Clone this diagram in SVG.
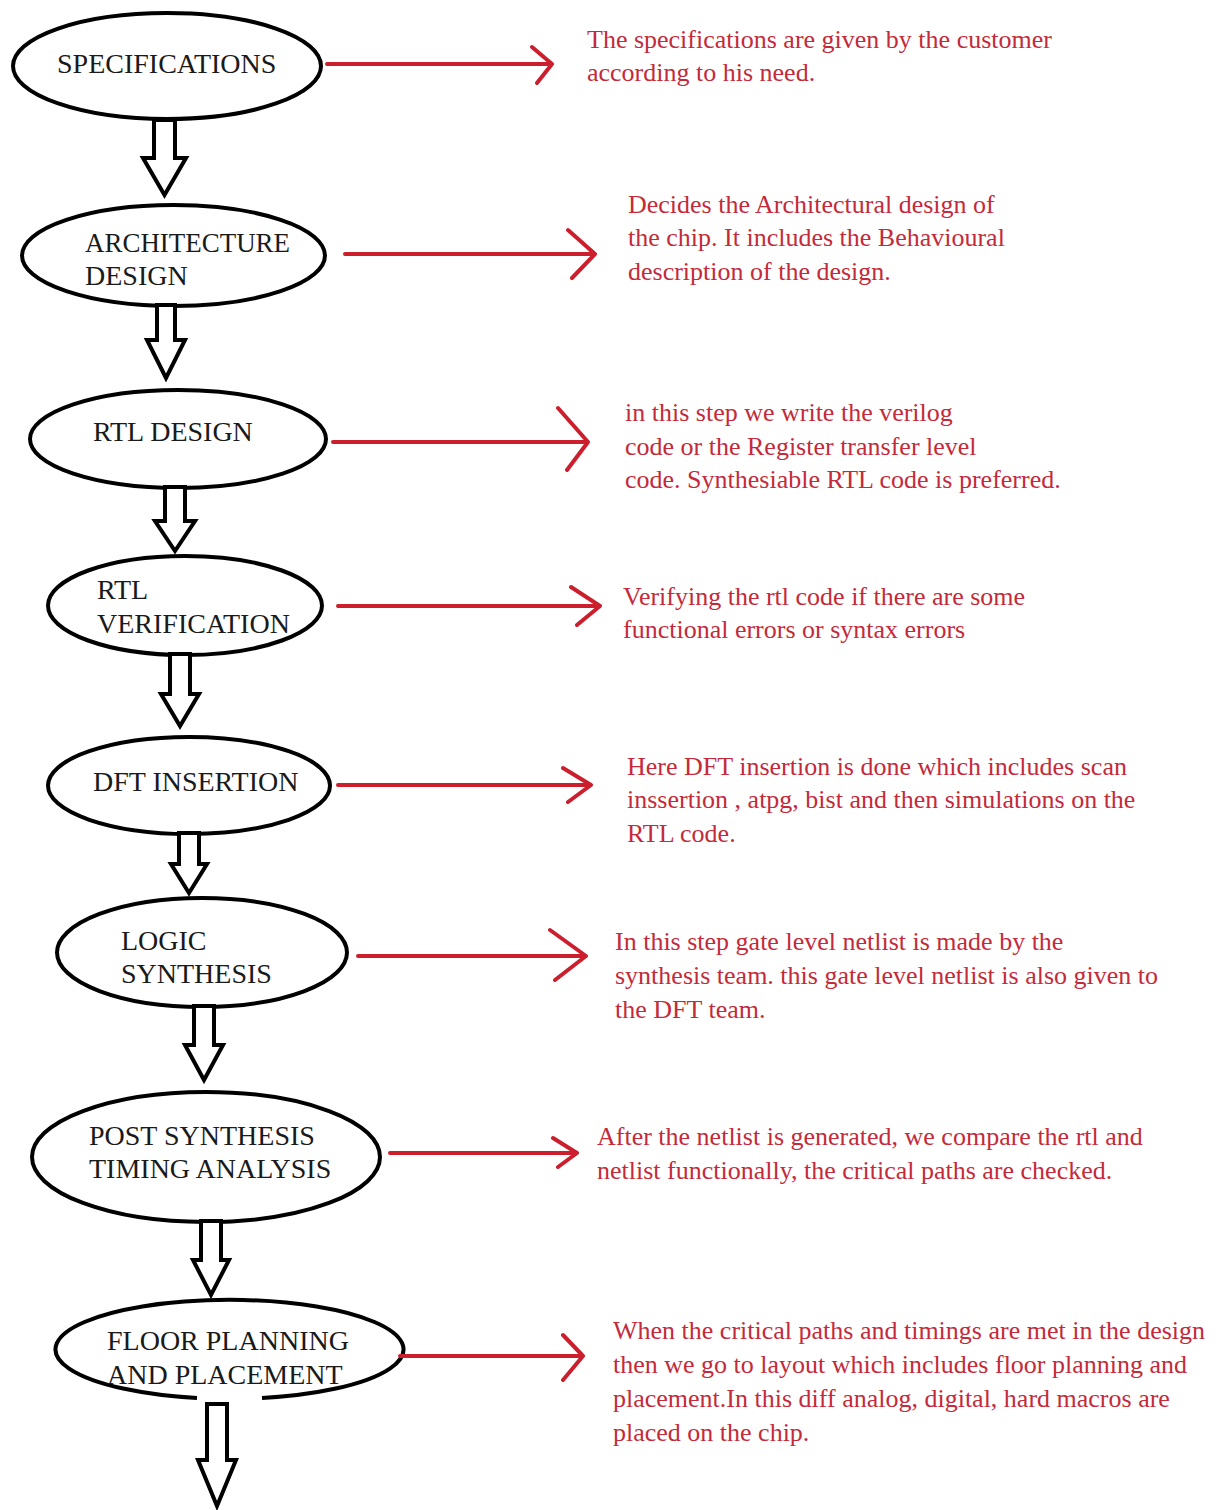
<svg xmlns="http://www.w3.org/2000/svg" width="1225" height="1510" viewBox="0 0 1225 1510">
<style>
.node{fill:#fff;stroke:#000;stroke-width:4}
.lbl{font-family:"Liberation Serif","Times New Roman",serif;font-size:28px;fill:#1a1a1a}
.desc{font-family:"Liberation Serif","Times New Roman",serif;font-size:26px;fill:#c42a3a}
.flow{fill:#fff;stroke:#000;stroke-width:4;stroke-linejoin:miter}
.red{fill:none;stroke:#cc1f2d;stroke-width:4;stroke-linecap:round;stroke-linejoin:round}
</style>
<rect width="1225" height="1510" fill="#fff"/>

<g id="n1">
<ellipse class="node" cx="167" cy="66" rx="154" ry="53"/>
<text class="lbl" x="57" y="73">SPECIFICATIONS</text>
</g>
<g id="n2">
<ellipse class="node" cx="173.5" cy="255.5" rx="151.5" ry="50.5"/>
<text class="lbl" x="85" y="252" textLength="205" lengthAdjust="spacingAndGlyphs">ARCHITECTURE</text>
<text class="lbl" x="85" y="285">DESIGN</text>
</g>
<g id="n3">
<ellipse class="node" cx="178" cy="439" rx="148" ry="49"/>
<text class="lbl" x="93" y="441">RTL DESIGN</text>
</g>
<g id="n4">
<ellipse class="node" cx="185" cy="605.5" rx="137" ry="49.5"/>
<text class="lbl" x="97" y="599">RTL</text>
<text class="lbl" x="97" y="633">VERIFICATION</text>
</g>
<g id="n5">
<ellipse class="node" cx="189" cy="785.5" rx="141" ry="48.5"/>
<text class="lbl" x="93" y="791">DFT INSERTION</text>
</g>
<g id="n6">
<ellipse class="node" cx="202" cy="952.5" rx="145" ry="54.5"/>
<text class="lbl" x="121" y="950">LOGIC</text>
<text class="lbl" x="121" y="983">SYNTHESIS</text>
</g>
<g id="n7">
<ellipse class="node" cx="206" cy="1157" rx="174" ry="65"/>
<text class="lbl" x="89" y="1145">POST SYNTHESIS</text>
<text class="lbl" x="89" y="1178">TIMING ANALYSIS</text>
</g>
<g id="n8">
<path class="node" d="M 262 1398 A 174 49.5 0 1 0 197 1398"/>
<text class="lbl" x="107" y="1350">FLOOR PLANNING</text>
<text class="lbl" x="107" y="1384">AND PLACEMENT</text>
</g>

<g id="d1">
<text class="desc" x="587" y="48">The specifications are given by the customer</text>
<text class="desc" x="587" y="81">according to his need.</text>
</g>
<g id="d2">
<text class="desc" x="628" y="213">Decides the Architectural design of</text>
<text class="desc" x="628" y="246">the chip. It includes the Behavioural</text>
<text class="desc" x="628" y="280">description of the design.</text>
</g>
<g id="d3">
<text class="desc" x="625" y="421">in this step we write the verilog</text>
<text class="desc" x="625" y="455">code or the Register transfer level</text>
<text class="desc" x="625" y="488">code. Synthesiable RTL code is preferred.</text>
</g>
<g id="d4">
<text class="desc" x="623" y="605">Verifying the rtl code if there are some</text>
<text class="desc" x="623" y="638">functional errors or syntax errors</text>
</g>
<g id="d5">
<text class="desc" x="627" y="775">Here DFT insertion is done which includes scan</text>
<text class="desc" x="627" y="808">inssertion , atpg, bist and then simulations on the</text>
<text class="desc" x="627" y="842">RTL code.</text>
</g>
<g id="d6">
<text class="desc" x="615" y="950">In this step gate level netlist is made by the</text>
<text class="desc" x="615" y="984">synthesis team. this gate level netlist is also given to</text>
<text class="desc" x="615" y="1018">the DFT team.</text>
</g>
<g id="d7">
<text class="desc" x="597" y="1145">After the netlist is generated, we compare the rtl and</text>
<text class="desc" x="597" y="1179">netlist functionally, the critical paths are checked.</text>
</g>
<g id="d8">
<text class="desc" x="613" y="1339">When the critical paths and timings are met in the design</text>
<text class="desc" x="613" y="1373">then we go to layout which includes floor planning and</text>
<text class="desc" x="613" y="1407">placement.In this diff analog, digital, hard macros are</text>
<text class="desc" x="613" y="1441">placed on the chip.</text>
</g>

<g id="connectors">
<polygon class="flow" points="154,120 175,120 175,158 186,158 164.5,195 143,158 154,158"/>
<polygon class="flow" points="157,305 175,305 175,340 185,340 166,378 147,340 157,340"/>
<polygon class="flow" points="165,487 185,487 185,521 195,521 175,551 155,521 165,521"/>
<polygon class="flow" points="170,654 190,654 190,694 199,694 180,726 161,694 170,694"/>
<polygon class="flow" points="179,833 199,833 199,864 207,864 189,893 171,864 179,864"/>
<polygon class="flow" points="194,1006 214,1006 214,1045 223,1045 204,1080 185,1045 194,1045"/>
<polygon class="flow" points="201,1221 221,1221 221,1260 229,1260 211,1295 193,1260 201,1260"/>
<polygon class="flow" points="207,1404 227,1404 227,1460 236,1460 217,1506 198,1460 207,1460"/>

<path class="red" d="M327 64 H551 M532 47 L552 64 L537 83"/>
<path class="red" d="M345 254 H594 M568 230 L595 254 L572 278"/>
<path class="red" d="M333 442 H587 M558 408 L588 442 L567 470"/>
<path class="red" d="M338 606 H599 M571 587 L600 606 L577 625"/>
<path class="red" d="M338 785 H590 M563 768 L591 785 L568 802"/>
<path class="red" d="M358 956 H585 M550 930 L586 956 L555 980"/>
<path class="red" d="M390 1153 H576 M553 1138 L577 1153 L558 1167"/>
<path class="red" d="M400 1356 H582 M563 1335 L583 1356 L563 1380"/>
</g>
</svg>
